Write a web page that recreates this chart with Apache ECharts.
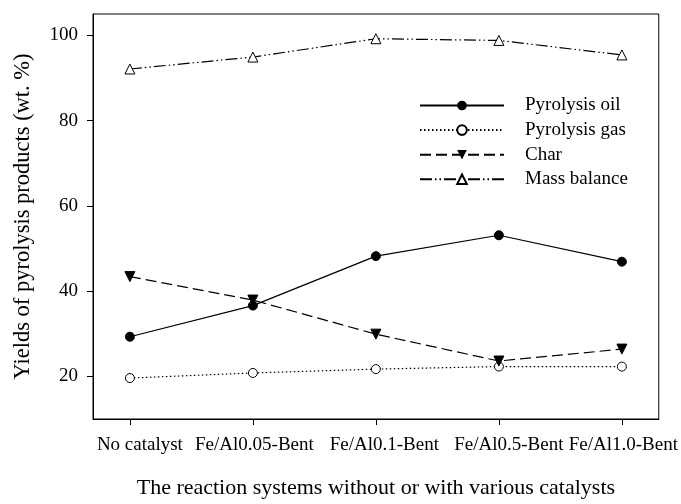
<!DOCTYPE html>
<html>
<head>
<meta charset="utf-8">
<script src="https://cdn.jsdelivr.net/npm/echarts@6/dist/echarts.min.js"></script>
<style>
html,body{margin:0;padding:0;background:#fff;}
#chart{width:681px;height:504px;}
</style>
</head>
<body>
<div id="chart"></div>
<script>
var categories = ['No catalyst', 'Fe/Al0.05-Bent', 'Fe/Al0.1-Bent', 'Fe/Al0.5-Bent', 'Fe/Al1.0-Bent'];
var pyrolysisOil = [29.3, 36.6, 48.2, 53.1, 46.9];
var pyrolysisGas = [19.6, 20.8, 21.7, 22.3, 22.3];
var charYield = [43.4, 37.9, 29.9, 23.6, 26.4];
var massBalance = [92.1, 94.9, 99.2, 98.8, 95.4];
var yTicks = [20, 40, 60, 80, 100];

var FONT = "'Liberation Serif', 'Times New Roman', serif";
function pts(arr){ return arr.map(function(v,i){ return [i, v]; }); }
var xIdx = categories.map(function(c,i){ return i; });

// label styling: the original figure's labels sit slightly right of some ticks
var labelRich = {
  l0: {fontFamily: FONT, fontSize: 19, color: '#000', padding: [0,0,0,20]},
  l1: {fontFamily: FONT, fontSize: 19, color: '#000', padding: [0,0,0,3]},
  l2: {fontFamily: FONT, fontSize: 19, color: '#000', padding: [0,0,0,17]},
  l3: {fontFamily: FONT, fontSize: 19, color: '#000', padding: [0,0,0,20]},
  l4: {fontFamily: FONT, fontSize: 19, color: '#000', padding: [0,0,0,3]}
};

var chart = echarts.init(document.getElementById('chart'), null, {renderer:'canvas'});
chart.setOption({
  animation: false,
  backgroundColor: '#fff',
  grid: {left: 93, right: 21, top: 14, bottom: 83, show: true, borderColor: '#000', borderWidth: 1, backgroundColor: 'transparent'},
  legend: {
    orient: 'vertical', left: 414, top: 91,
    itemWidth: 84, itemHeight: 12, itemGap: 5.6,
    textStyle: {fontFamily: FONT, fontSize: 19, color: '#000', padding: [0,0,0,16]},
    data: ['Pyrolysis oil', 'Pyrolysis gas', 'Char', 'Mass balance']
  },
  xAxis: {
    type: 'value', min: -0.3, max: 4.3,
    name: 'The reaction systems without or with various catalysts',
    nameLocation: 'middle', nameGap: 58,
    nameTextStyle: {fontFamily: FONT, fontSize: 22, color: '#000'},
    axisLine: {show: true, onZero: false, lineStyle: {color: '#000', width: 1}},
    axisTick: {show: true, inside: false, length: 6, customValues: xIdx, lineStyle: {color: '#000'}},
    axisLabel: {customValues: xIdx, margin: 17, fontFamily: FONT, fontSize: 19, color: '#000', rich: labelRich,
      formatter: function(v){ var i = Math.round(v); return '{l' + i + '|' + categories[i] + '}'; }},
    splitLine: {show: false}
  },
  yAxis: {
    type: 'value', min: 10, max: 105,
    name: 'Yields of pyrolysis products (wt. %)',
    nameLocation: 'middle', nameGap: 58,
    nameTextStyle: {fontFamily: FONT, fontSize: 22.5, color: '#000'},
    axisLine: {show: true, onZero: false, lineStyle: {color: '#000', width: 1}},
    axisTick: {show: true, inside: false, length: 6, customValues: yTicks, lineStyle: {color: '#000'}},
    axisLabel: {customValues: yTicks, margin: 15, fontFamily: FONT, fontSize: 19, color: '#000'},
    splitLine: {show: false}
  },
  series: [
    {name: 'Pyrolysis oil', type: 'line', data: pts(pyrolysisOil), symbol: 'circle', symbolSize: 9,
      lineStyle: {color: '#000', width: 1.2, type: 'solid'}, itemStyle: {color: '#000', borderColor: '#000'}, z: 4},
    {name: 'Pyrolysis gas', type: 'line', data: pts(pyrolysisGas), symbol: 'circle', symbolSize: 9,
      lineStyle: {color: '#000', width: 1.2, type: [1.5, 2.5]}, itemStyle: {color: '#fff', borderColor: '#000', borderWidth: 1}, z: 3},
    {name: 'Char', type: 'line', data: pts(charYield), symbol: 'triangle', symbolRotate: 180, symbolSize: 10,
      lineStyle: {color: '#000', width: 1.2, type: [11, 5]}, itemStyle: {color: '#000', borderColor: '#000'}, z: 5},
    {name: 'Mass balance', type: 'line', data: pts(massBalance), symbol: 'triangle', symbolSize: 10,
      lineStyle: {color: '#000', width: 1.2, type: [12, 3, 1.5, 3, 1.5, 3]}, itemStyle: {color: '#fff', borderColor: '#000', borderWidth: 1}, z: 3}
  ]
});
</script>
</body>
</html>
